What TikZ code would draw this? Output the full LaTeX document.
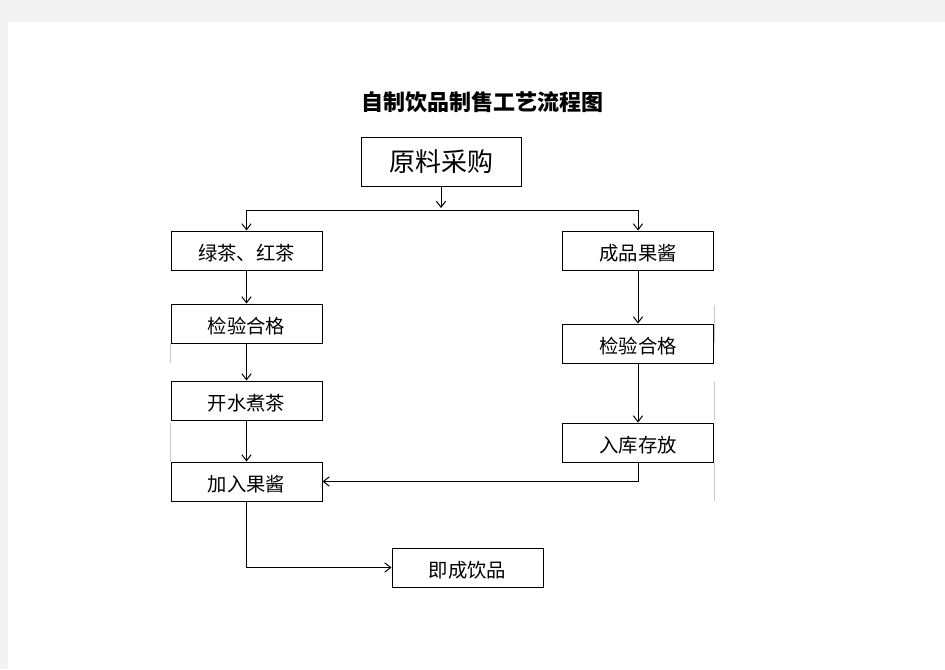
\documentclass[tikz,border=0pt]{standalone}
\usepackage{fontspec}
\newfontfamily\cjk{Noto Sans CJK SC}
\usetikzlibrary{arrows.meta}
\definecolor{pagegray}{HTML}{F3F3F3}
\definecolor{stray}{HTML}{C8C8C8}
\begin{document}
\begin{tikzpicture}[x=0.75pt,y=-0.75pt,
  stepbox/.style={draw=black,line width=0.75pt,minimum width=113.25pt,minimum height=29.25pt,inner sep=0pt,text height=16.5pt,text depth=1.4pt,font=\cjk\fontsize{14.5}{15}\selectfont},
  conn/.style={line width=0.75pt,draw=black},
  arr/.style={conn,-{Straight Barb[length=4.5pt,width=7pt,line width=0.75pt]}},
  strayline/.style={draw=stray,line width=0.75pt}]
\useasboundingbox (0,0) rectangle (945,669);
\fill[pagegray] (0,0) rectangle (945,669);
\fill[white] (8,22) rectangle (945,669);

\node[font=\cjk\bfseries\fontsize{16.5}{17}\selectfont] (title) at (482,102) {自制饮品制售工艺流程图};

\node[stepbox,minimum width=120pt,minimum height=36.75pt,text height=17pt,text depth=1.8pt,font=\cjk\fontsize{19.5}{20}\selectfont] (top) at (441,161.5) {原料采购};

\node[stepbox] (L1) at (246.5,250.5) {绿茶、红茶};
\node[stepbox] (L2) at (246.5,323.5) {检验合格};
\node[stepbox] (L3) at (246.5,400.5) {开水煮茶};
\node[stepbox] (L4) at (246.5,481.5) {加入果酱};

\node[stepbox] (R1) at (638,250.5) {成品果酱};
\node[stepbox] (R2) at (638,343.5) {检验合格};
\node[stepbox] (R3) at (638,442.5) {入库存放};

\node[stepbox] (B) at (467.5,567.5) {即成饮品};

\coordinate (split) at (441,210);
\coordinate (splitend) at (441,208);

\draw[arr] (top.south) -- (splitend);
\draw[conn] (L1.north |- split) -- (R1.north |- split);
\draw[arr] (L1.north |- split) -- (L1.north);
\draw[arr] (R1.north |- split) -- (R1.north);

\draw[arr] (L1) -- (L2);
\draw[arr] (L2) -- (L3);
\draw[arr] (L3) -- (L4);

\draw[arr] (R1) -- (R2);
\draw[arr] (R2) -- (R3);

\draw[arr] (R3.south) |- (L4.east);
\draw[arr] (L4.south) |- (B.west);

% faint stray rule fragments
\draw[strayline] (714.5,305) -- (714.5,343);
\draw[strayline] (714.5,382) -- (714.5,420);
\draw[strayline] (714.5,463) -- (714.5,501);
\draw[strayline] (170.5,343) -- (170.5,363);
\draw[strayline] (170.5,423) -- (170.5,462);
\end{tikzpicture}
\end{document}
